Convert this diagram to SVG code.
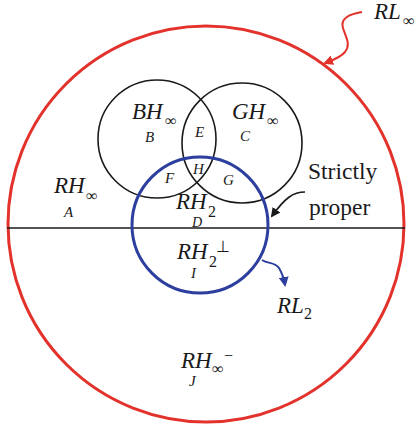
<svg xmlns="http://www.w3.org/2000/svg" width="416" height="426" viewBox="0 0 416 426">
<style>
.it{font-family:"Liberation Serif",serif;font-style:italic;fill:#1a1a1a}
.rm{font-family:"Liberation Serif",serif;fill:#1a1a1a}
.big{font-size:23px}
.sub{font-size:16px}
.lbl{font-size:15px}
.blk{fill:none;stroke:#1a1a1a;stroke-width:1.6}
</style>
<defs>
<marker id="ar" viewBox="0 0 10 10" refX="8" refY="5" markerWidth="5" markerHeight="5" orient="auto"><path d="M0,0 L10,5 L0,10 z" fill="#e2322b"/></marker>
<marker id="ab" viewBox="0 0 10 10" refX="8" refY="5" markerWidth="5" markerHeight="5" orient="auto"><path d="M0,0 L10,5 L0,10 z" fill="#2c3e9e"/></marker>
<marker id="ak" viewBox="0 0 10 10" refX="8" refY="5" markerWidth="6" markerHeight="6" orient="auto"><path d="M0,0 L10,5 L0,10 z" fill="#1a1a1a"/></marker>
</defs>
<g id="RL_inf">
<circle cx="206" cy="224" r="198" fill="none" stroke="#e2322b" stroke-width="3"/>
<text class="it big" x="374" y="19">RL</text><text class="it sub" x="403" y="26">∞</text>
</g>
<g id="divider"><line x1="7" y1="228" x2="405" y2="228" stroke="#1a1a1a" stroke-width="1.6"/></g>
<g id="BH_inf">
<circle class="blk" cx="157" cy="139" r="59"/>
<text class="it big" x="132" y="119">BH</text><text class="it sub" x="165" y="126">∞</text>
<text class="it lbl" x="145" y="142">B</text>
</g>
<g id="GH_inf">
<circle class="blk" cx="242" cy="143" r="60"/>
<text class="it big" x="232" y="119">GH</text><text class="it sub" x="267" y="126">∞</text>
<text class="it lbl" x="240" y="141">C</text>
</g>
<g id="regions">
<text class="it lbl" x="195" y="137">E</text>
<text class="it lbl" x="193" y="174">H</text>
<text class="it lbl" x="165" y="183">F</text>
<text class="it lbl" x="223" y="185">G</text>
</g>
<g id="RH2">
<circle cx="200" cy="225" r="68" fill="none" stroke="#2c3e9e" stroke-width="3"/>
<text class="it big" x="176" y="209">RH</text><text class="rm sub" x="208" y="217">2</text>
<text class="it" font-size="14" x="192" y="227">D</text>
<text class="it big" x="177" y="259">RH</text><text class="rm sub" x="209" y="267">2</text><text class="rm sub" x="216" y="252">⊥</text>
<text class="it lbl" x="191" y="278">I</text>
</g>
<g id="RH_inf">
<text class="it big" x="54" y="193">RH</text><text class="it sub" x="86" y="201">∞</text>
<text class="it lbl" x="64" y="217">A</text>
</g>
<g id="RH_inf_minus">
<text class="it big" x="181" y="368">RH</text><text class="it sub" x="212" y="374">∞</text><text class="rm sub" x="224" y="361">−</text>
<text class="it lbl" x="189" y="386">J</text>
</g>
<g id="RL2">
<text class="it big" x="277" y="313">RL</text><text class="rm sub" x="304" y="319">2</text>
</g>
<g id="strictly">
<text class="rm" font-size="23.5" x="308" y="179">Strictly</text>
<text class="rm" font-size="23.5" x="309" y="215">proper</text>
</g>
<g id="connectors">
<path d="M362,12 C350,14 340,18 343,28 C346,38 351,44 345,52 C340,58 333,60 325,63" fill="none" stroke="#e2322b" stroke-width="2" marker-end="url(#ar)"/>
<path d="M305,192 C293,192 285,198 272,216" fill="none" stroke="#1a1a1a" stroke-width="1.6" marker-end="url(#ak)"/>
<path d="M262,260 C268,264 275,262 279,268 C282,273 284,279 285,285" fill="none" stroke="#2c3e9e" stroke-width="2" marker-end="url(#ab)"/>
</g>
</svg>
